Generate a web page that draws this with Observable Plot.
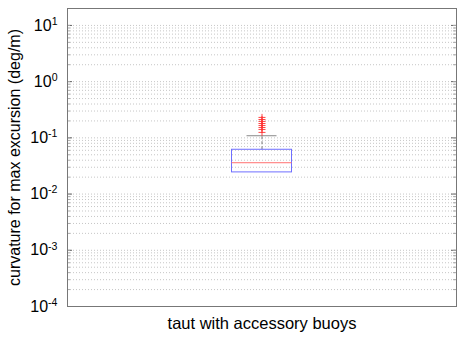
<!DOCTYPE html>
<html>
<head>
<meta charset="utf-8">
<script src="https://cdn.jsdelivr.net/npm/d3@7"></script>
<script src="https://cdn.jsdelivr.net/npm/@observablehq/plot@0.6"></script>
<style>
  html, body { margin: 0; padding: 0; background: #fff; }
  #chart svg { display: block; }
</style>
</head>
<body>
<div id="chart"></div>
<script>
// ---- data ----
const categories = ["taut with accessory buoys"];
const q1 = [0.0243];
const median = [0.0361];
const q3 = [0.0614];
const upperWhisker = [0.109];
const outliers = [0.231, 0.212, 0.196, 0.180, 0.166, 0.153, 0.141, 0.125];
const majorTicks = [1e-4, 1e-3, 1e-2, 1e-1, 1e0, 1e1];
const yLabel = "curvature for max excursion (deg/m)";

// ---- build tables ----
const boxes = categories.map((c, i) => ({cat: c, q1: q1[i], med: median[i], q3: q3[i], hi: upperWhisker[i]}));
const minorTicks = [];
for (const m of majorTicks) for (let k = 1; k <= 9; k++) { const v = m * k; if (v <= 20) minorTicks.push(v); }
const cat = categories[0];

const W = 457, H = 340;
const mL = 67, mR = 1;
const band = W - mL - mR;

const plot = Plot.plot({
  width: W,
  height: H,
  marginLeft: mL,
  marginRight: mR,
  marginTop: 8,
  marginBottom: 34,
  style: {fontFamily: "Liberation Sans, Arial, sans-serif", background: "#fff"},
  x: {type: "band", domain: categories, padding: 0},
  y: {type: "log", domain: [1e-4, 20]},
  marks: [
    Plot.gridY(minorTicks, {stroke: "#b8b8b8", strokeOpacity: 1, strokeWidth: 0.8, strokeDasharray: "1,2"}),
    // inside ticks (left and right)
    Plot.tickY(majorTicks, {x: () => cat, y: d => d, insetRight: band - 5, stroke: "#666"}),
    Plot.tickY(majorTicks, {x: () => cat, y: d => d, insetLeft: band - 5, stroke: "#666"}),
    Plot.tickY(minorTicks, {x: () => cat, y: d => d, insetRight: band - 3, stroke: "#aaa"}),
    Plot.tickY(minorTicks, {x: () => cat, y: d => d, insetLeft: band - 3, stroke: "#aaa"}),
    Plot.axisY(majorTicks, {
      tickSize: 0, tickPadding: 10, fontSize: 16, label: null, fill: "#000",
      tickFormat: d => "10^" + Math.round(Math.log10(d))
    }),
    Plot.axisX({tickSize: 0, tickPadding: 11, fontSize: 16.5, label: null, fill: "#000"}),
    Plot.text([yLabel], {frameAnchor: "left", textAnchor: "middle", rotate: -90, dx: -53, fontSize: 16, fill: "#000"}),
    // box plot
    Plot.ruleX(boxes, {x: "cat", y1: "q3", y2: "hi", stroke: "#777", strokeDasharray: "3,2"}),
    Plot.tickY(boxes, {x: "cat", y: "hi", insetLeft: (band - 30) / 2, insetRight: (band - 30) / 2, stroke: "#888"}),
    Plot.barY(boxes, {x: "cat", y1: "q1", y2: "q3", fill: "none", stroke: "#6f6fff", insetLeft: (band - 60) / 2, insetRight: (band - 60) / 2}),
    Plot.tickY(boxes, {x: "cat", y: "med", insetLeft: (band - 60) / 2, insetRight: (band - 60) / 2, stroke: "#ff7070"}),
    Plot.dot(outliers, {x: () => cat, y: d => d, symbol: "plus", r: 2.4, stroke: "#ff3030", strokeWidth: 0.9}),
    Plot.frame({stroke: "#777"})
  ]
});

// superscript exponents on the y tick labels
d3.select(plot).selectAll("text").each(function() {
  const t = this.textContent;
  const m = /^10\^(-?\d+)$/.exec(t);
  if (m) {
    const el = d3.select(this);
    el.text("10");
    el.append("tspan").attr("dy", "-0.55em").attr("font-size", "0.66em").text(m[1]);
  }
});

document.getElementById("chart").appendChild(plot);
</script>
</body>
</html>
